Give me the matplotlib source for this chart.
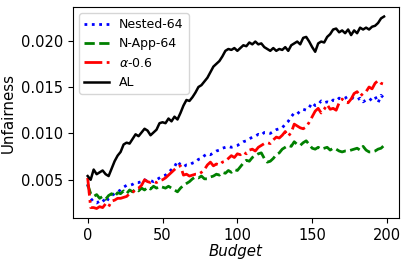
import numpy as np
import matplotlib
matplotlib.use("Agg")
import matplotlib.pyplot as plt

budget = list(range(0, 200, 2))

al = [0.0054, 0.0050, 0.0061, 0.0056, 0.0058, 0.0060, 0.0056, 0.0054, 0.0062, 0.0070,
      0.0076, 0.0080, 0.0088, 0.0090, 0.0089, 0.0094, 0.0099, 0.0097, 0.0101, 0.0105,
      0.0103, 0.0098, 0.0101, 0.0104, 0.0111, 0.0112, 0.0111, 0.0116, 0.0113, 0.0118,
      0.0115, 0.0122, 0.0130, 0.0136, 0.0135, 0.0139, 0.0144, 0.0150, 0.0152, 0.0156,
      0.0160, 0.0166, 0.0172, 0.0175, 0.0178, 0.0183, 0.0189, 0.0191, 0.0190, 0.0192,
      0.0189, 0.0192, 0.0195, 0.0194, 0.0198, 0.0196, 0.0199, 0.0196, 0.0197, 0.0193,
      0.0191, 0.0189, 0.0192, 0.0189, 0.0191, 0.0190, 0.0193, 0.0189, 0.0195, 0.0197,
      0.0199, 0.0196, 0.0203, 0.0204, 0.0199, 0.0193, 0.0188, 0.0197, 0.0199, 0.0198,
      0.0204, 0.0207, 0.0212, 0.0213, 0.0209, 0.0211, 0.0208, 0.0212, 0.0206, 0.0211,
      0.0208, 0.0214, 0.0212, 0.0214, 0.0212, 0.0215, 0.0216, 0.0219, 0.0224, 0.0226]

nested = [0.0045, 0.0030, 0.0026, 0.0025, 0.0027, 0.0029, 0.0025, 0.0030, 0.0033, 0.0035,
          0.0037, 0.0039, 0.0042, 0.0044, 0.0044, 0.0045, 0.0047, 0.0047, 0.0048, 0.0050,
          0.0048, 0.0049, 0.0048, 0.0050, 0.0052, 0.0054, 0.0055, 0.0058, 0.0061, 0.0064,
          0.0070, 0.0066, 0.0064, 0.0066, 0.0066, 0.0068, 0.0069, 0.0072, 0.0073, 0.0076,
          0.0078, 0.0077, 0.0079, 0.0081, 0.0082, 0.0084, 0.0085, 0.0086, 0.0085, 0.0086,
          0.0087, 0.0089, 0.0091, 0.0092, 0.0094, 0.0096, 0.0097, 0.0099, 0.0098, 0.0101,
          0.0101, 0.0100, 0.0102, 0.0104, 0.0105, 0.0106, 0.0110, 0.0113, 0.0118, 0.0122,
          0.0121, 0.0124, 0.0126, 0.0125, 0.0128, 0.0133, 0.0130, 0.0131, 0.0135, 0.0133,
          0.0134, 0.0133, 0.0136, 0.0135, 0.0138, 0.0137, 0.0138, 0.0140, 0.0139, 0.0137,
          0.0136, 0.0138, 0.0134, 0.0136, 0.0135, 0.0138, 0.0140, 0.0133, 0.0141, 0.0138]

napp = [0.0045, 0.0035, 0.0032, 0.0034, 0.0030, 0.0032, 0.0029, 0.0033, 0.0035, 0.0032,
        0.0036, 0.0035, 0.0038, 0.0035, 0.0039, 0.0037, 0.0040, 0.0038, 0.0041, 0.0039,
        0.0042, 0.0040, 0.0043, 0.0041, 0.0043, 0.0042, 0.0041, 0.0043, 0.0041, 0.0039,
        0.0037, 0.0041, 0.0044, 0.0046, 0.0048, 0.0051, 0.0053, 0.0052, 0.0054, 0.0051,
        0.0051, 0.0053, 0.0054, 0.0056, 0.0055, 0.0058, 0.0057, 0.0060, 0.0058, 0.0061,
        0.0060, 0.0064, 0.0068, 0.0071, 0.0070, 0.0074, 0.0076, 0.0078, 0.0079, 0.0073,
        0.0069, 0.0070, 0.0073, 0.0077, 0.0079, 0.0083, 0.0085, 0.0087, 0.0086, 0.0091,
        0.0088, 0.0087, 0.0090, 0.0092, 0.0088, 0.0084, 0.0083, 0.0085, 0.0083, 0.0084,
        0.0085, 0.0082, 0.0084, 0.0083, 0.0081, 0.0080, 0.0081, 0.0081, 0.0082, 0.0083,
        0.0084, 0.0082, 0.0086, 0.0082, 0.0080, 0.0080, 0.0081, 0.0083, 0.0084, 0.0087]

alpha = [0.0052, 0.0020, 0.0020, 0.0019, 0.0021, 0.0020, 0.0024, 0.0021, 0.0027, 0.0028,
         0.0030, 0.0030, 0.0031, 0.0032, 0.0035, 0.0036, 0.0040, 0.0041, 0.0044, 0.0050,
         0.0048, 0.0047, 0.0048, 0.0047, 0.0049, 0.0050, 0.0052, 0.0055, 0.0058, 0.0061,
         0.0064, 0.0065, 0.0055, 0.0056, 0.0054, 0.0055, 0.0056, 0.0056, 0.0058, 0.0061,
         0.0066, 0.0069, 0.0065, 0.0067, 0.0066, 0.0069, 0.0070, 0.0073, 0.0076, 0.0074,
         0.0078, 0.0077, 0.0080, 0.0078, 0.0082, 0.0083, 0.0081, 0.0085, 0.0087, 0.0089,
         0.0090, 0.0089, 0.0093, 0.0096, 0.0095, 0.0098, 0.0102, 0.0097, 0.0101, 0.0110,
         0.0108, 0.0106, 0.0105, 0.0107, 0.0112, 0.0118, 0.0124, 0.0127, 0.0122, 0.0126,
         0.0131, 0.0126, 0.0127, 0.0125, 0.0133, 0.0137, 0.0134, 0.0133, 0.0137, 0.0143,
         0.0145, 0.0140, 0.0143, 0.0145, 0.0150, 0.0148, 0.0154, 0.0157, 0.0154, 0.0153]

fig = plt.figure(figsize=(4.07, 2.66), dpi=100)
ax = fig.add_axes([0.179, 0.180, 0.801, 0.794])

ax.plot(budget, nested, color="blue", linestyle=":", linewidth=2, label="Nested-64")
ax.plot(budget, napp, color="green", linestyle="--", linewidth=2, label="N-App-64")
ax.plot(budget, alpha, color="red", linestyle="-.", linewidth=2, label=r"$\alpha$-0.6")
ax.plot(budget, al, color="black", linestyle="-", linewidth=1.8, label="AL")

ax.set_xticks([0, 50, 100, 150, 200])
ax.set_yticks([0.005, 0.010, 0.015, 0.020])
ax.tick_params(labelsize=10.5)
ax.set_xlabel("Budget", fontsize=10.8, fontstyle="italic", labelpad=1)
ax.set_ylabel("Unfairness", fontsize=10.8, labelpad=4)
ax.legend(loc="upper left", fontsize=9, handlelength=2.0, borderaxespad=0.5)

fig.savefig("out.png", dpi=100)
